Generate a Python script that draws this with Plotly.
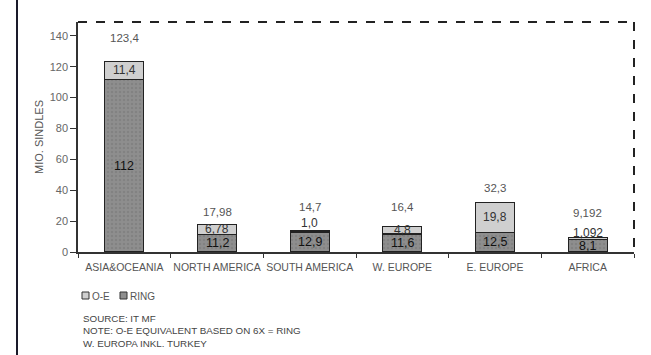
import plotly.graph_objects as go

# Regional breakdown, million singles
regions = ["ASIA&OCEANIA", "NORTH AMERICA", "SOUTH AMERICA", "W. EUROPE", "E. EUROPE", "AFRICA"]
ring = [112, 11.2, 12.9, 11.6, 12.5, 8.1]
oe = [11.4, 6.78, 1.0, 4.8, 19.8, 1.092]
totals = [123.4, 17.98, 14.7, 16.4, 32.3, 9.192]
y_ticks = [0, 20, 40, 60, 80, 100, 120, 140]
notes = ["SOURCE: IT MF",
         "NOTE: O-E EQUIVALENT BASED ON 6X = RING",
         "W. EUROPA INKL. TURKEY"]

# label placement tweaks (pixels)
oe_label_shift = [0, 0, 8, 0, 0, 6]
total_label_shift = [24, 12, 24, 20, 14, 25]

W, H = 651, 355
L, R, T, B = 78, 17, 22, 103
PW, PH = W - L - R, H - T - B


def px(x):
    return (x - L) / PW


def py(y):
    return (H - B - y) / PH


def fmt(v):
    return str(v).replace(".", ",")


FONT = "Liberation Sans, Arial, sans-serif"
DARK = "#8e8e8e"
LIGHT = "#cfcfcf"
EDGE = "#222222"

fig = go.Figure()
fig.add_bar(
    x=regions, y=ring, name="RING",
    marker=dict(color=DARK, line=dict(color=EDGE, width=1.2),
                pattern=dict(shape=".", fgcolor="#767676", bgcolor=DARK, size=4, solidity=0.3)),
)
fig.add_bar(
    x=regions, y=oe, name="O-E",
    marker=dict(color=LIGHT, line=dict(color=EDGE, width=1.2)),
)

ann = []
for i, r in enumerate(regions):
    top = ring[i] + oe[i]
    ann.append(dict(x=r, y=ring[i] / 2, text=fmt(ring[i]), showarrow=False,
                    font=dict(family=FONT, size=12.5, color="#111")))
    ann.append(dict(x=r, y=ring[i] + oe[i] / 2, yshift=oe_label_shift[i], text=fmt(oe[i]),
                    showarrow=False, font=dict(family=FONT, size=12, color="#333")))
    ann.append(dict(x=r, y=top, yshift=total_label_shift[i], text=fmt(totals[i]),
                    showarrow=False, font=dict(family=FONT, size=11.5, color="#555")))

# legend
ann.append(dict(xref="paper", yref="paper", x=px(90), y=py(296), xanchor="left", yanchor="middle",
                text="O-E", showarrow=False, font=dict(family=FONT, size=10, color="#555")))
ann.append(dict(xref="paper", yref="paper", x=px(128), y=py(296), xanchor="left", yanchor="middle",
                text="RING", showarrow=False, font=dict(family=FONT, size=10, color="#555")))
for k, line in enumerate(notes):
    ann.append(dict(xref="paper", yref="paper", x=px(81), y=py(318 + 12.5 * k), xanchor="left",
                    yanchor="middle", text=line, showarrow=False,
                    font=dict(family=FONT, size=9.8, color="#444")))

shapes = [
    # dashed frame around the plot
    dict(type="line", xref="paper", yref="paper", x0=0, x1=1, y0=1, y1=1,
         line=dict(color="#222", width=2, dash="dash")),
    dict(type="line", xref="paper", yref="paper", x0=1, x1=1, y0=1, y1=0.02,
         line=dict(color="#222", width=2, dash="dash")),
    # left page rule
    dict(type="line", xref="paper", yref="paper", x0=px(17), x1=px(17), y0=py(0), y1=py(355),
         line=dict(color="#1a1a2a", width=2)),
    # legend swatches
    dict(type="rect", xref="paper", yref="paper", x0=px(82), x1=px(89), y0=py(299), y1=py(292),
         fillcolor=LIGHT, line=dict(color="#333", width=1)),
    dict(type="rect", xref="paper", yref="paper", x0=px(120), x1=px(127), y0=py(299), y1=py(292),
         fillcolor=DARK, line=dict(color="#333", width=1)),
]

fig.update_layout(
    width=W, height=H, margin=dict(l=L, r=R, t=T, b=B, autoexpand=False),
    barmode="stack", bargap=0.58, showlegend=False,
    paper_bgcolor="white", plot_bgcolor="white",
    font=dict(family=FONT, color="#555"),
    annotations=ann, shapes=shapes,
)
fig.update_xaxes(
    type="category", showline=True, linecolor="#333", linewidth=1.5,
    tickson="boundaries", ticks="outside", ticklen=4, tickcolor="#333", tickangle=0,
    ticklabelstandoff=5,
    tickfont=dict(family=FONT, size=10.5, color="#555"), showgrid=False,
)
fig.update_yaxes(
    range=[0, 149], tickvals=y_ticks, showline=True, linecolor="#333", linewidth=1.5,
    ticks="outside", ticklen=6, tickcolor="#333", showgrid=False, zeroline=False,
    tickfont=dict(family=FONT, size=11, color="#666"),
    title=dict(text="MIO. SINDLES", font=dict(family=FONT, size=11, color="#555"), standoff=4),
)

fig.write_html("out.html")
